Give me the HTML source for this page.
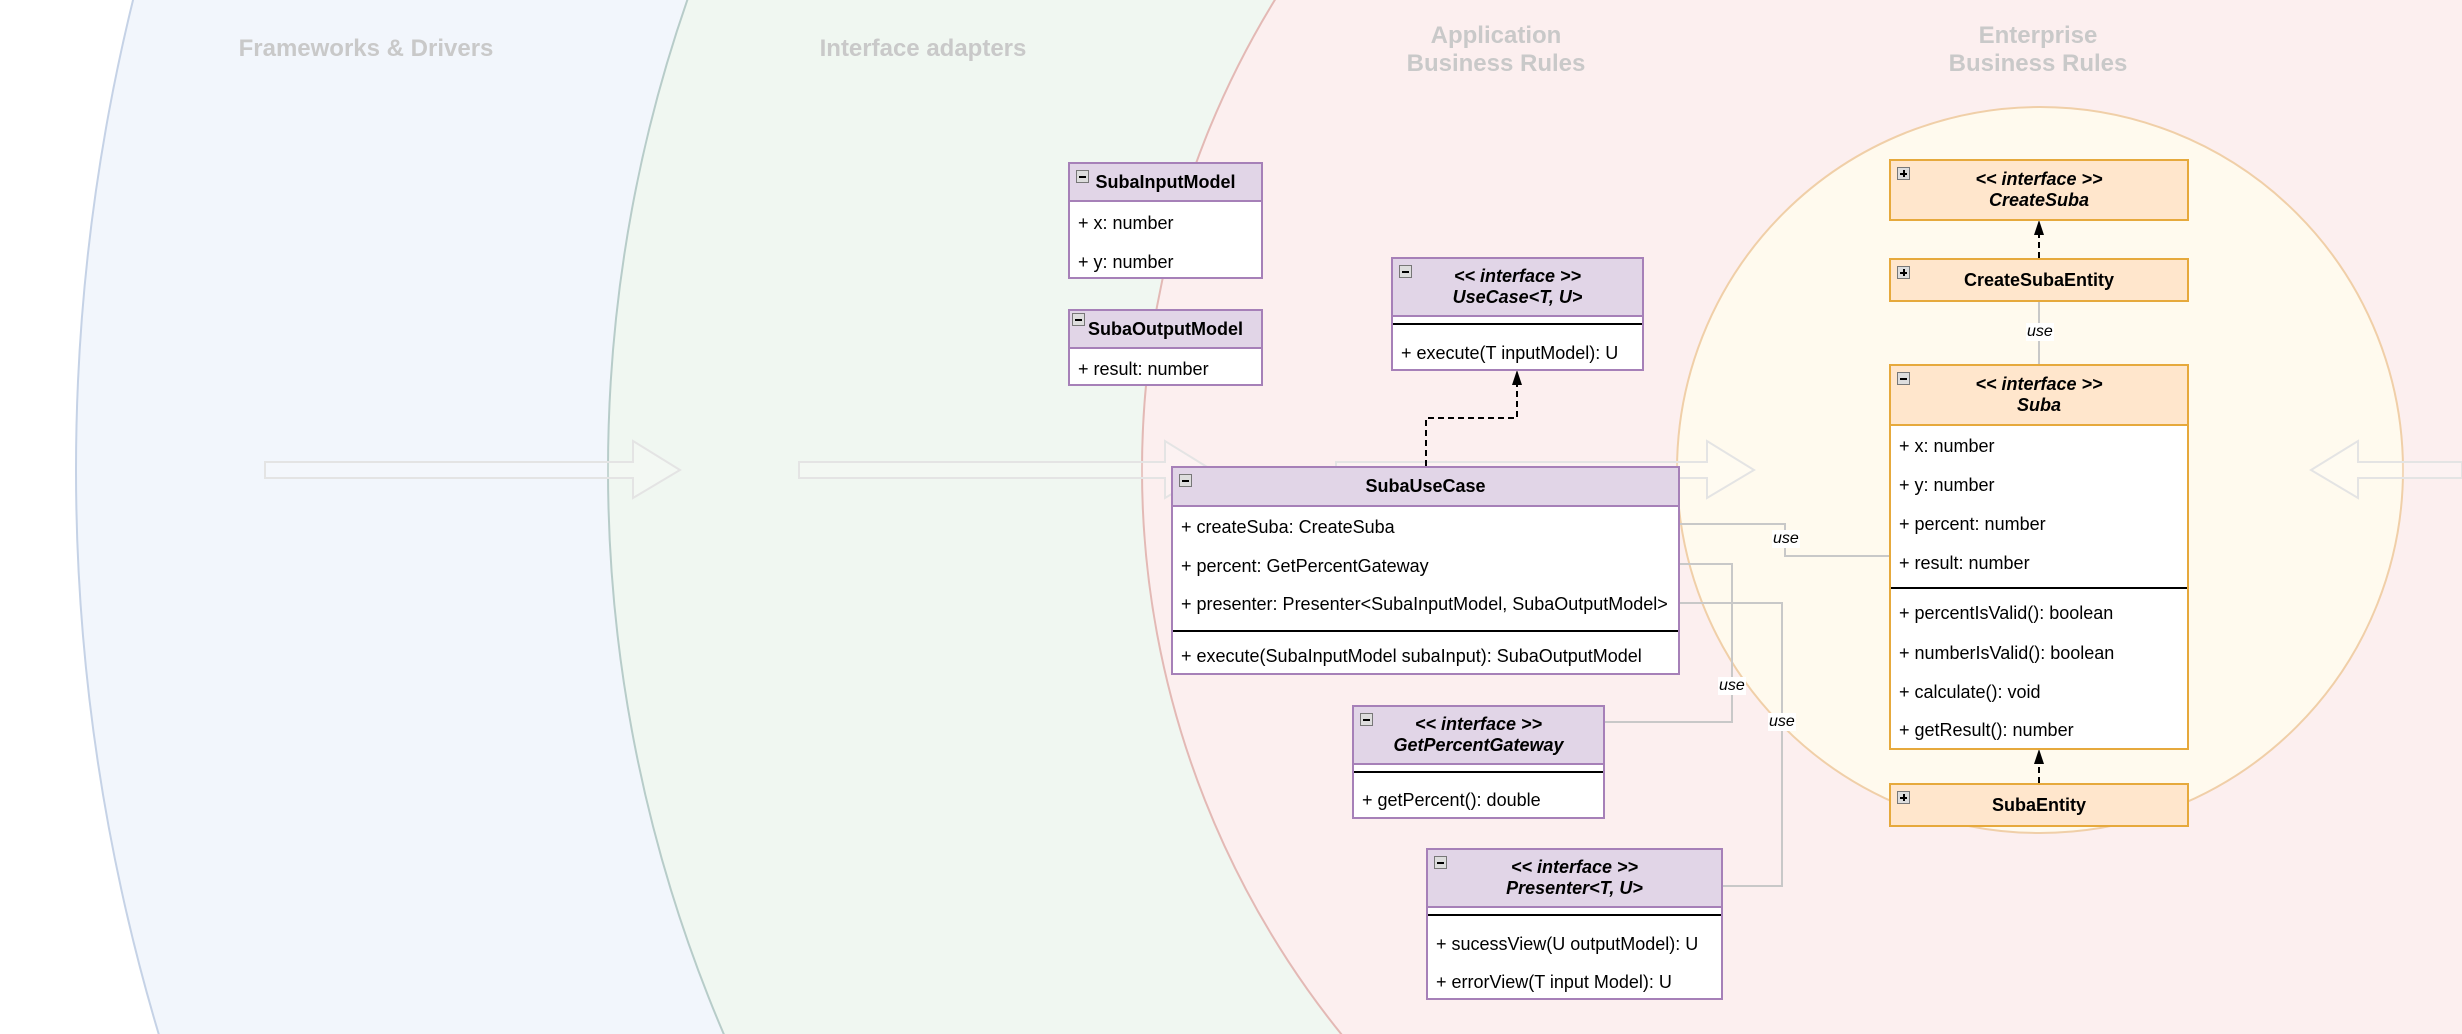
<!DOCTYPE html>
<html><head><meta charset="utf-8"><style>
html,body{margin:0;width:2462px;height:1034px;overflow:hidden}
body{background:#fff;font-family:"Liberation Sans",Arial,sans-serif;position:relative}
.t{position:absolute;color:#c9c9c9;font-weight:bold;font-size:24px;text-align:center;line-height:28px}
.b{position:absolute;box-sizing:border-box;background:#fff;border:2px solid #a680b8}
.o{border-color:#e6a93c}
.h{position:absolute;left:0;right:0;top:0;background:#e1d5e7;border-bottom:2px solid #a680b8;font-weight:bold;font-size:18px;text-align:center;box-sizing:border-box;display:flex;flex-direction:column;justify-content:center;line-height:21px}
.o .h{background:#ffe6cc;border-color:#e6a93c}
.i{font-style:italic}
.r{position:absolute;left:8px;font-size:18px;line-height:20px;white-space:nowrap}
.d{position:absolute;left:0;right:0;border-top:2px solid #000}
.ic{position:absolute;left:6px;top:6px;width:13px;height:13px;border:1px solid #777;background:#ddd;box-sizing:border-box}
.ic:after{content:"";position:absolute;left:2px;right:2px;top:5px;height:1.5px;background:#000}
.p:before{content:"";position:absolute;top:2px;bottom:2px;left:5px;width:1.5px;background:#000}
.u{position:absolute;font-style:italic;font-size:16px;background:#fff;line-height:18px;padding:0 1px}
</style></head><body>
<svg width="2462" height="1034" style="position:absolute;left:0;top:0;overflow:hidden">
<circle cx="2040" cy="470" r="1964" fill="#f2f6fc" stroke="#c5d2e6" stroke-width="2"/>
<circle cx="2040" cy="470" r="1432" fill="#f0f7f1" stroke="#b7ccc9" stroke-width="2"/>
<circle cx="2040" cy="470" r="898" fill="#fcefef" stroke="#e3b9b5" stroke-width="2"/>
<circle cx="2040" cy="470" r="363" fill="#fffaee" stroke="#f0cfa8" stroke-width="2"/>
<g fill="rgba(255,255,255,0.2)" stroke="#e4e4e4" stroke-width="2">
<polygon points="265,462 633,462 633,441 680,470 633,498 633,478 265,478"/>
<polygon points="799,462 1165,462 1165,441 1212,470 1165,498 1165,478 799,478"/>
<polygon points="1336,462 1707,462 1707,441 1754,470 1707,498 1707,478 1336,478"/>
<polygon points="2462,462 2358,462 2358,441 2311,470 2358,498 2358,478 2462,478"/>
</g>
<g fill="none" stroke="#c8c8c8" stroke-width="2">
<polyline points="1680,524 1785,524 1785,556 1889,556"/>
<polyline points="1680,564 1732,564 1732,722 1605,722"/>
<polyline points="1680,603 1782,603 1782,886 1723,886"/>
<line x1="2039" y1="302" x2="2039" y2="364"/>
</g>
<g fill="none" stroke="#000" stroke-width="2" stroke-dasharray="6,4">
<polyline points="1426,466 1426,418 1517,418 1517,384"/>
<line x1="2039" y1="258" x2="2039" y2="234"/>
<line x1="2039" y1="783" x2="2039" y2="763"/>
</g>
<g fill="#000">
<polygon points="1517,370 1512,385 1522,385"/>
<polygon points="2039,220 2034,235 2044,235"/>
<polygon points="2039,749 2034,764 2044,764"/>
</g>
</svg>
<div class="t" style="left:216px;top:35px;width:300px">Frameworks &amp; Drivers</div>
<div class="t" style="left:773px;top:35px;width:300px">Interface adapters</div>
<div class="t" style="left:1346px;top:22px;width:300px">Application<br>Business Rules</div>
<div class="t" style="left:1888px;top:22px;width:300px">Enterprise<br>Business Rules</div>

<div class="b" style="left:1068px;top:162px;width:195px;height:117px"><div class="h" style="height:38px">SubaInputModel</div><div class="ic"></div>
<div class="r" style="top:49px">+ x: number</div><div class="r" style="top:88px">+ y: number</div></div>
<div class="b" style="left:1068px;top:309px;width:195px;height:77px"><div class="h" style="height:38px">SubaOutputModel</div><div class="ic" style="left:2px;top:2px"></div>
<div class="r" style="top:48px">+ result: number</div></div>

<div class="b" style="left:1391px;top:257px;width:253px;height:114px"><div class="h i" style="height:58px">&lt;&lt; interface &gt;&gt;<br>UseCase&lt;T, U&gt;</div><div class="ic"></div>
<div class="d" style="top:64px"></div><div class="r" style="top:84px">+ execute(T inputModel): U</div></div>

<div class="b" style="left:1171px;top:466px;width:509px;height:209px"><div class="h" style="height:39px">SubaUseCase</div><div class="ic"></div>
<div class="r" style="top:49px">+ createSuba: CreateSuba</div>
<div class="r" style="top:88px">+ percent: GetPercentGateway</div>
<div class="r" style="top:126px">+ presenter: Presenter&lt;SubaInputModel, SubaOutputModel&gt;</div>
<div class="d" style="top:162px"></div>
<div class="r" style="top:178px">+ execute(SubaInputModel subaInput): SubaOutputModel</div></div>

<div class="b" style="left:1352px;top:705px;width:253px;height:114px"><div class="h i" style="height:58px">&lt;&lt; interface &gt;&gt;<br>GetPercentGateway</div><div class="ic"></div>
<div class="d" style="top:64px"></div><div class="r" style="top:83px">+ getPercent(): double</div></div>

<div class="b" style="left:1426px;top:848px;width:297px;height:152px"><div class="h i" style="height:58px">&lt;&lt; interface &gt;&gt;<br>Presenter&lt;T, U&gt;</div><div class="ic"></div>
<div class="d" style="top:64px"></div>
<div class="r" style="top:84px">+ sucessView(U outputModel): U</div>
<div class="r" style="top:122px">+ errorView(T input Model): U</div></div>

<div class="b o" style="left:1889px;top:159px;width:300px;height:62px"><div class="h i" style="height:58px;border:0">&lt;&lt; interface &gt;&gt;<br>CreateSuba</div><div class="ic p"></div></div>
<div class="b o" style="left:1889px;top:258px;width:300px;height:44px"><div class="h" style="height:40px;border:0">CreateSubaEntity</div><div class="ic p"></div></div>
<div class="b o" style="left:1889px;top:364px;width:300px;height:386px"><div class="h i" style="height:60px">&lt;&lt; interface &gt;&gt;<br>Suba</div><div class="ic"></div>
<div class="r" style="top:70px">+ x: number</div>
<div class="r" style="top:109px">+ y: number</div>
<div class="r" style="top:148px">+ percent: number</div>
<div class="r" style="top:187px">+ result: number</div>
<div class="d" style="top:221px"></div>
<div class="r" style="top:237px">+ percentIsValid(): boolean</div>
<div class="r" style="top:277px">+ numberIsValid(): boolean</div>
<div class="r" style="top:316px">+ calculate(): void</div>
<div class="r" style="top:354px">+ getResult(): number</div></div>
<div class="b o" style="left:1889px;top:783px;width:300px;height:44px"><div class="h" style="height:40px;border:0">SubaEntity</div><div class="ic p"></div></div>

<div class="u" style="left:2026px;top:323px">use</div>
<div class="u" style="left:1772px;top:530px">use</div>
<div class="u" style="left:1718px;top:677px">use</div>
<div class="u" style="left:1768px;top:713px">use</div>
</body></html>
